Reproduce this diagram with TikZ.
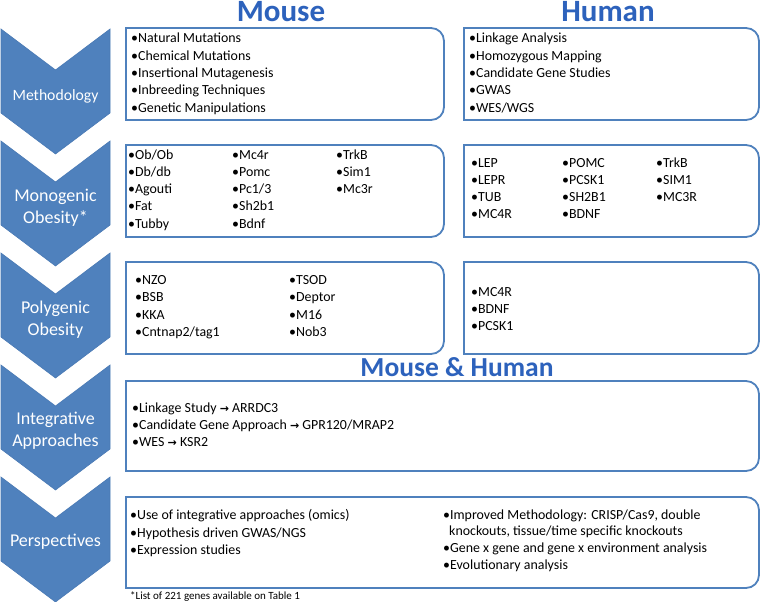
\documentclass[tikz,border=0pt]{standalone}
\usepackage{fontspec}
\setmainfont{Carlito}
\newfontfamily\symfont{DejaVu Sans}
\definecolor{chev}{HTML}{4F81BD}
\definecolor{chevedge}{HTML}{4A7AB4}
\definecolor{boxblue}{HTML}{4F81BD}
\definecolor{head}{HTML}{2D62BC}
\newcommand\rrbox[4]{\draw[boxline] (#1,#2) -- ({#3-13},#2) .. controls ({#3-5.8},#2) and (#3,{#2+5.8}) .. (#3,{#2+13}) -- (#3,{#4-13}) .. controls (#3,{#4-5.8}) and ({#3-5.8},#4) .. ({#3-13},#4) -- (#1,#4) -- cycle;}
\newcommand\arr{{\symfont\bfseries\fontsize{11}{12}\selectfont →}}
\begin{document}
\begin{tikzpicture}[x=1pt,y=-1pt,
  chevron/.style={fill=chev,draw=chevedge,line width=0.6pt,line join=miter},
  chevlabel/.style={text=white,font=\fontsize{18}{22}\selectfont,align=center,inner sep=0pt},
  boxline/.style={draw=boxblue,line width=1.8pt,fill=white},
  itm/.style={anchor=base west,inner sep=0pt,font=\fontsize{13.9}{16}\selectfont},
  header/.style={text=head,font=\bfseries\fontsize{31}{36}\selectfont,anchor=base,inner sep=0pt}]
\useasboundingbox (0,0) rectangle (761,602);
% chevrons
\foreach \k in {0,...,4}{
  \pgfmathsetmacro\yt{29+112*\k}
  \draw[chevron] (1,\yt) -- (55.5,{\yt+41}) -- (110,\yt) -- (110,{\yt+84}) -- (55.5,{\yt+125}) -- (1,{\yt+84}) -- cycle;
}
\node[chevlabel,font=\fontsize{15.7}{19}\selectfont] (c1) at (55.5,96) {Methodology};
\node[chevlabel] (c2) at (55.5,208) {Monogenic\\Obesity*};
\node[chevlabel] (c3) at (55.5,320) {Polygenic\\Obesity};
\node[chevlabel] (c4) at (55.5,431) {Integrative\\Approaches};
\node[chevlabel] (c5) at (55.5,542) {Perspectives};
% headers
\node[header] (hm) at (281,22) {Mouse};
\node[header] (hh) at (608,22) {Human};
\node[header,font=\bfseries\fontsize{27.5}{32}\selectfont] (hmh) at (457,376) {Mouse \& Human};
% boxes
\rrbox{126}{28}{444}{120}
\rrbox{464}{28}{759}{120}
\rrbox{126}{145}{444}{237}
\rrbox{464}{145}{759}{237}
\rrbox{126}{262}{444}{354}
\rrbox{464}{262}{759}{354}
\rrbox{126}{381}{759}{471}
\rrbox{126}{497}{759}{588}
% row 1
\foreach \t [count=\i from 0] in {Natural Mutations, Chemical Mutations, Insertional Mutagenesis, Inbreeding Techniques, Genetic Manipulations}
  \node[itm] (ma\i) at (131,{43+17.3*\i}) {•\t};
\foreach \t [count=\i from 0] in {Linkage Analysis, Homozygous Mapping, Candidate Gene Studies, GWAS, WES/WGS}
  \node[itm] (ha\i) at (469,{43+17.3*\i}) {•\t};
% row 2
\foreach \t [count=\i from 0] in {Ob/Ob, Db/db, Agouti, Fat, Tubby}
  \node[itm] (mb\i) at (128,{159+17.3*\i}) {•\t};
\foreach \t [count=\i from 0] in {Mc4r, Pomc, Pc1/3, Sh2b1, Bdnf}
  \node[itm] (mc\i) at (232,{159+17.3*\i}) {•\t};
\foreach \t [count=\i from 0] in {TrkB, Sim1, Mc3r}
  \node[itm] (md\i) at (336,{159+17.3*\i}) {•\t};
\foreach \t [count=\i from 0] in {LEP, LEPR, TUB, MC4R}
  \node[itm] (hb\i) at (471,{167+17.3*\i}) {•\t};
\foreach \t [count=\i from 0] in {POMC, PCSK1, SH2B1, BDNF}
  \node[itm] (hc\i) at (562,{167+17.3*\i}) {•\t};
\foreach \t [count=\i from 0] in {TrkB, SIM1, MC3R}
  \node[itm] (hd\i) at (656,{167+17.3*\i}) {•\t};
% row 3
\foreach \t [count=\i from 0] in {NZO, BSB, KKA, Cntnap2/tag1}
  \node[itm] (me\i) at (135,{284.5+17.3*\i}) {•\t};
\foreach \t [count=\i from 0] in {TSOD, Deptor, M16, Nob3}
  \node[itm] (mf\i) at (289,{284.5+17.3*\i}) {•\t};
\foreach \t [count=\i from 0] in {MC4R, BDNF, PCSK1}
  \node[itm] (he\i) at (471,{296+17.3*\i}) {•\t};
% row 4
\node[itm] (ia) at (132,412.5) {•Linkage Study \arr{} ARRDC3};
\node[itm] (ib) at (132,429.5) {•Candidate Gene Approach \arr{} GPR120/MRAP2};
\node[itm] (ic) at (132,446.5) {•WES \arr{} KSR2};
% row 5
\node[itm] (pa) at (130,519.5) {•Use of integrative approaches (omics)};
\node[itm] (pb) at (130,537) {•Hypothesis driven GWAS/NGS};
\node[itm] (pc) at (130,554.5) {•Expression studies};
\node[itm] (pd) at (443,519.5) {•Improved Methodology: CRISP/Cas9, double};
\node[itm] (pe) at (449,535) {knockouts, tissue/time specific knockouts};
\node[itm] (pf) at (443,552.5) {•Gene x gene and gene x environment analysis};
\node[itm] (pg) at (443,569.5) {•Evolutionary analysis};
% footnote
\node[anchor=base west,inner sep=0pt,font=\fontsize{11}{12}\selectfont] (fn) at (130,599) {*List of 221 genes available on Table 1};
\end{tikzpicture}
\end{document}
